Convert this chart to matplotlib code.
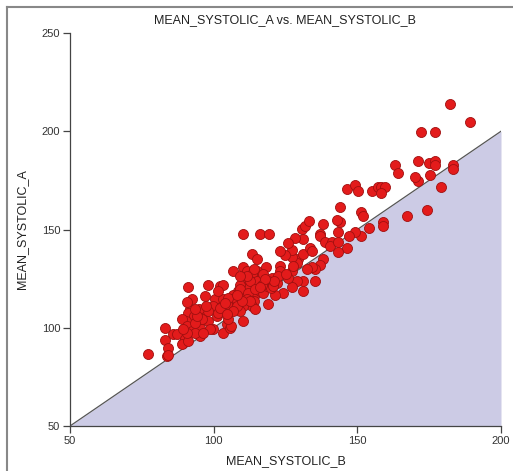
import matplotlib
matplotlib.use("Agg")
import matplotlib.pyplot as plt
from matplotlib.lines import Line2D

plt.rcParams['font.family'] = ['Liberation Sans', 'DejaVu Sans']

title = "MEAN_SYSTOLIC_A vs. MEAN_SYSTOLIC_B"
x_label = "MEAN_SYSTOLIC_B"
y_label = "MEAN_SYSTOLIC_A"
x_ticks = [50, 100, 150, 200]
y_ticks = [50, 100, 150, 200, 250]

mean_systolic_b = [
    182.3, 189.2, 172.3, 177.1, 163.1, 164.2, 171.2, 171.2, 170.0, 175.1,
    177.1, 177.1, 175.3, 183.2, 183.2, 179.2, 174.1, 167.2, 159.0, 159.0,
    154.2, 151.2, 149.1, 147.1, 146.3, 144.0, 146.3, 149.1, 150.3, 151.2,
    151.9, 155.0, 157.3, 158.4, 159.6, 158.2, 144.0, 142.8, 143.4, 138.2,
    137.1, 137.1, 138.8, 141.2, 140.5, 143.4, 143.4, 138.2, 137.1, 135.3,
    134.2, 132.5, 135.3, 131.2, 131.2, 128.9, 127.1, 129.4, 128.9, 127.1,
    131.2, 133.5, 134.2, 130.9, 131.8, 133.3, 131.2, 128.3, 127.1, 124.8,
    123.1, 127.1, 126.0, 123.1, 123.1, 124.0, 121.3, 119.0, 118.2, 116.1,
    119.1, 110.3, 113.2, 115.2, 106.8, 110.3, 111.5, 115.0, 113.2, 120.3,
    119.0, 117.1, 115.0, 113.9, 111.5, 109.2, 108.6, 106.8, 105.7, 110.3,
    110.9, 113.9, 113.9, 113.2, 114.4, 110.3, 109.2, 110.3, 106.2, 104.5,
    102.2, 100.5, 103.4, 99.9, 98.1, 102.2, 103.1, 101.5, 96.9, 91.2,
    92.3, 91.8, 91.2, 93.0, 90.2, 89.0, 90.7, 92.5, 95.3, 95.3,
    93.5, 95.8, 96.4, 98.1, 98.1, 99.9, 98.8, 101.0, 101.6, 102.2,
    103.1, 104.5, 105.7, 106.2, 105.1, 86.0, 87.1, 83.1, 83.1, 84.2,
    83.6, 84.2, 77.3, 89.2, 90.0, 89.0, 91.2, 90.7, 94.8, 95.8,
    96.4, 90.7, 89.5, 93.5, 94.1, 93.5, 97.5, 116.1, 117.2, 118.4,
    120.1, 121.9, 122.5, 120.7, 112.1, 112.7, 109.2, 112.1, 107.4, 105.1,
    108.0, 106.8, 104.5, 111.5, 112.7, 109.8, 114.4, 116.7, 117.3, 114.0,
    111.5, 109.2, 127.7, 126.0, 125.0, 121.0, 118.0, 116.0, 108.0, 104.0,
]

mean_systolic_a = [
    213.7, 204.7, 199.7, 199.7, 182.7, 178.6, 184.7, 174.7, 176.7, 183.9,
    184.7, 182.7, 177.7, 182.7, 180.7, 171.7, 159.8, 156.8, 153.7, 151.7,
    150.7, 146.6, 148.8, 146.6, 140.7, 161.7, 170.7, 172.7, 169.7, 158.8,
    156.8, 169.7, 171.7, 171.7, 171.7, 168.6, 153.7, 154.7, 148.8, 152.7,
    147.7, 146.6, 143.8, 143.8, 141.7, 143.8, 138.7, 134.8, 131.7, 129.8,
    130.8, 129.8, 123.7, 123.7, 118.6, 123.7, 120.8, 134.8, 133.1, 136.0,
    137.7, 140.7, 139.0, 150.3, 151.7, 154.1, 145.3, 145.8, 139.8, 136.8,
    139.0, 128.8, 125.4, 131.4, 128.8, 117.8, 116.9, 111.9, 130.8, 147.7,
    147.7, 147.7, 137.7, 134.8, 128.8, 130.8, 128.8, 128.8, 127.1, 125.4,
    123.7, 122.0, 123.7, 119.7, 121.0, 122.0, 118.6, 116.9, 113.6, 117.8,
    115.3, 116.1, 113.6, 111.0, 109.3, 111.0, 108.5, 103.4, 110.2, 111.9,
    113.6, 114.4, 114.4, 111.0, 122.0, 121.0, 122.0, 118.6, 116.1, 120.8,
    114.7, 109.3, 107.6, 105.9, 103.4, 104.2, 100.8, 98.3, 100.0, 95.8,
    97.5, 104.2, 107.6, 108.5, 103.4, 99.2, 99.2, 105.9, 107.6, 110.2,
    97.5, 101.7, 100.0, 100.8, 104.2, 97.0, 97.0, 99.7, 93.7, 89.8,
    85.6, 85.9, 86.8, 92.4, 94.1, 91.5, 93.2, 113.1, 109.7, 104.6,
    97.5, 97.5, 99.2, 102.5, 105.9, 109.3, 111.0, 118.6, 117.8, 121.0,
    120.2, 122.8, 126.2, 121.0, 124.6, 123.7, 119.5, 117.8, 115.3, 115.3,
    111.0, 108.5, 106.8, 114.4, 113.6, 113.6, 119.5, 122.0, 127.1, 129.7,
    126.3, 126.3, 131.4, 142.9, 127.5, 124.0, 125.0, 120.5, 116.5, 112.5,
]

W, H = 513, 471
fig = plt.figure(figsize=(W / 100, H / 100), dpi=100)
ax = fig.add_axes([70 / W, 1 - 426 / H, (501 - 70) / W, (426 - 33) / H])

# shaded region below identity line
ax.fill_between([50, 200], [50, 50], [50, 200], color='#cccbe5', linewidth=0, zorder=1)
ax.plot([50, 200], [50, 200], color='#555555', linewidth=0.9, zorder=2)

ax.scatter(mean_systolic_b, mean_systolic_a, s=52, color='#e31b1b',
           edgecolors='#a01010', linewidths=0.6, zorder=3)

ax.set_xlim(50, 200)
ax.set_ylim(50, 250)
ax.set_xticks(x_ticks)
ax.set_yticks(y_ticks)
ax.spines['top'].set_visible(False)
ax.spines['right'].set_visible(False)
for s in ('left', 'bottom'):
    ax.spines[s].set_color('#444444')
    ax.spines[s].set_linewidth(0.9)
ax.tick_params(axis='both', direction='out', length=5, width=0.9, color='#444444',
               labelsize=8, labelcolor='#333333', pad=2)
ax.set_facecolor('none')

ax.set_title(title, fontsize=9, color='#222222', pad=7)
ax.set_xlabel(x_label, fontsize=9, color='#222222', labelpad=7)
ax.set_ylabel(y_label, fontsize=9, color='#222222', labelpad=10)

# outer frame (top and left visible)
fig.add_artist(Line2D([7 / W, 7 / W], [0, 1 - 7 / H], transform=fig.transFigure,
                      color='#888888', linewidth=1.5))
fig.add_artist(Line2D([7 / W, 1], [1 - 7 / H, 1 - 7 / H], transform=fig.transFigure,
                      color='#888888', linewidth=1.5))

fig.savefig('out.png', dpi=100, facecolor='white')
